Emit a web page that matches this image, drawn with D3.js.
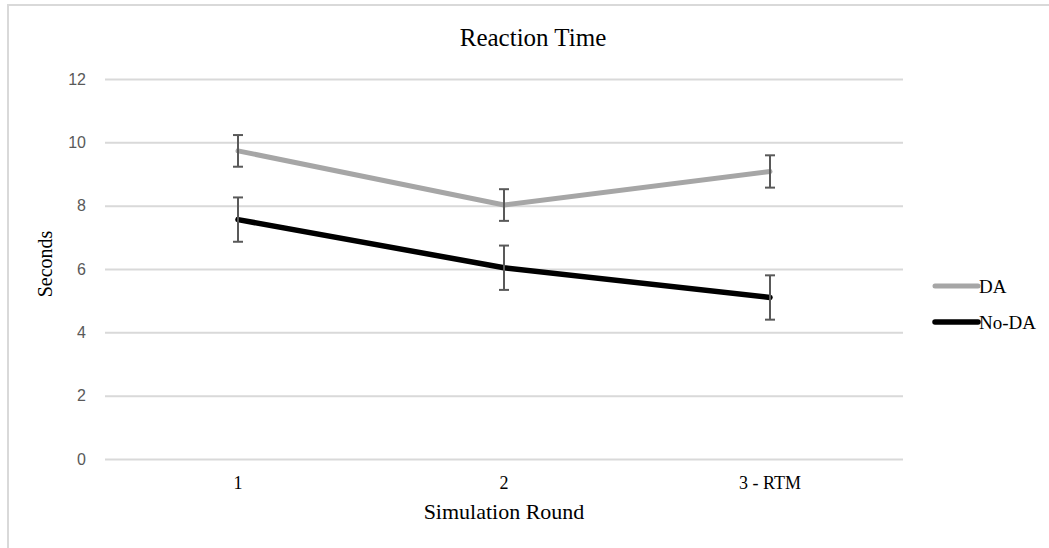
<!DOCTYPE html>
<html>
<head>
<meta charset="utf-8">
<script src="https://cdn.jsdelivr.net/npm/d3@7"></script>
<style>
  html, body { margin: 0; padding: 0; background: #fff; }
  svg { display: block; }
</style>
</head>
<body>
<svg id="chart" width="1049" height="548"></svg>
<script>
// ---- Data ----
const categories = ["1", "2", "3 - RTM"];
const daValues = [9.73, 8.02, 9.08];
const daErrors = [0.5, 0.5, 0.51];
const noDaValues = [7.56, 6.04, 5.1];
const noDaErrors = [0.7, 0.7, 0.7];
const yTicks = [0, 2, 4, 6, 8, 10, 12];
const seriesNames = ["DA", "No-DA"];
const seriesColors = ["#a6a6a6", "#000000"];

const series = [
  { name: seriesNames[0], values: daValues, errors: daErrors, color: seriesColors[0], width: 5 },
  { name: seriesNames[1], values: noDaValues, errors: noDaErrors, color: seriesColors[1], width: 5.5 }
];

const svg = d3.select("#chart");
const W = 1049, H = 548;
const serif = "'Liberation Serif', 'Times New Roman', serif";

// chart border
svg.append("rect")
  .attr("x", 8).attr("y", 5)
  .attr("width", W + 10).attr("height", H + 10)
  .attr("fill", "#fff").attr("stroke", "#d9d9d9").attr("stroke-width", 2);

const plot = { left: 105, right: 903, top: 79, bottom: 459 };

const x = d3.scaleBand().domain(categories).range([plot.left, plot.right]).padding(0);
const y = d3.scaleLinear().domain([0, 12]).range([plot.bottom, plot.top]);

// gridlines + y labels
const yAxis = d3.axisLeft(y).tickValues(yTicks).tickSize(-(plot.right - plot.left)).tickPadding(19);
const gy = svg.append("g").attr("transform", `translate(${plot.left},0)`).call(yAxis);
gy.select(".domain").remove();
gy.selectAll(".tick line").attr("stroke", "#d9d9d9").attr("stroke-width", 2);
gy.selectAll(".tick text")
  .attr("fill", "#595959")
  .style("font-family", "'Liberation Sans', Arial, sans-serif")
  .style("font-size", "16px");

// x axis labels
const xAxis = d3.axisBottom(x).tickSize(0).tickPadding(17);
const gx = svg.append("g").attr("transform", `translate(0,${plot.bottom})`).call(xAxis);
gx.select(".domain").remove();
gx.selectAll(".tick text")
  .attr("fill", "#000")
  .style("font-family", serif)
  .style("font-size", "18px");

const cx = d => x(d) + x.bandwidth() / 2;

// lines
series.forEach(s => {
  const pts = categories.map((c, i) => [cx(c), y(s.values[i])]);
  svg.append("path")
    .attr("d", d3.line()(pts))
    .attr("fill", "none")
    .attr("stroke", s.color)
    .attr("stroke-width", s.width)
    .attr("stroke-linejoin", "round")
    .attr("stroke-linecap", "round");
});

// error bars
series.forEach(s => {
  const g = svg.append("g").attr("stroke", "#595959").attr("stroke-width", 2);
  categories.forEach((c, i) => {
    const xc = cx(c);
    const y1 = y(s.values[i] + s.errors[i]);
    const y2 = y(s.values[i] - s.errors[i]);
    g.append("line").attr("x1", xc).attr("x2", xc).attr("y1", y1).attr("y2", y2);
    g.append("line").attr("x1", xc - 5).attr("x2", xc + 5).attr("y1", y1).attr("y2", y1);
    g.append("line").attr("x1", xc - 5).attr("x2", xc + 5).attr("y1", y2).attr("y2", y2);
  });
});

// title
svg.append("text")
  .attr("x", 533).attr("y", 46)
  .attr("text-anchor", "middle")
  .style("font-family", serif)
  .style("font-size", "25px")
  .attr("fill", "#000")
  .text("Reaction Time");

// axis titles
svg.append("text")
  .attr("x", (plot.left + plot.right) / 2).attr("y", 519)
  .attr("text-anchor", "middle")
  .style("font-family", serif)
  .style("font-size", "22px")
  .attr("fill", "#000")
  .text("Simulation Round");

svg.append("text")
  .attr("transform", `translate(52,264) rotate(-90)`)
  .attr("text-anchor", "middle")
  .style("font-family", serif)
  .style("font-size", "20px")
  .attr("fill", "#000")
  .text("Seconds");

// legend
const legY = [286, 322];
series.forEach((s, i) => {
  svg.append("line")
    .attr("x1", 935).attr("x2", 978)
    .attr("y1", legY[i]).attr("y2", legY[i])
    .attr("stroke", s.color).attr("stroke-width", s.width)
    .attr("stroke-linecap", "round");
  svg.append("text")
    .attr("x", 979).attr("y", legY[i]).attr("dy", "0.35em")
    .style("font-family", serif)
    .style("font-size", "19px")
    .attr("fill", "#000")
    .text(s.name);
});
</script>
</body>
</html>
